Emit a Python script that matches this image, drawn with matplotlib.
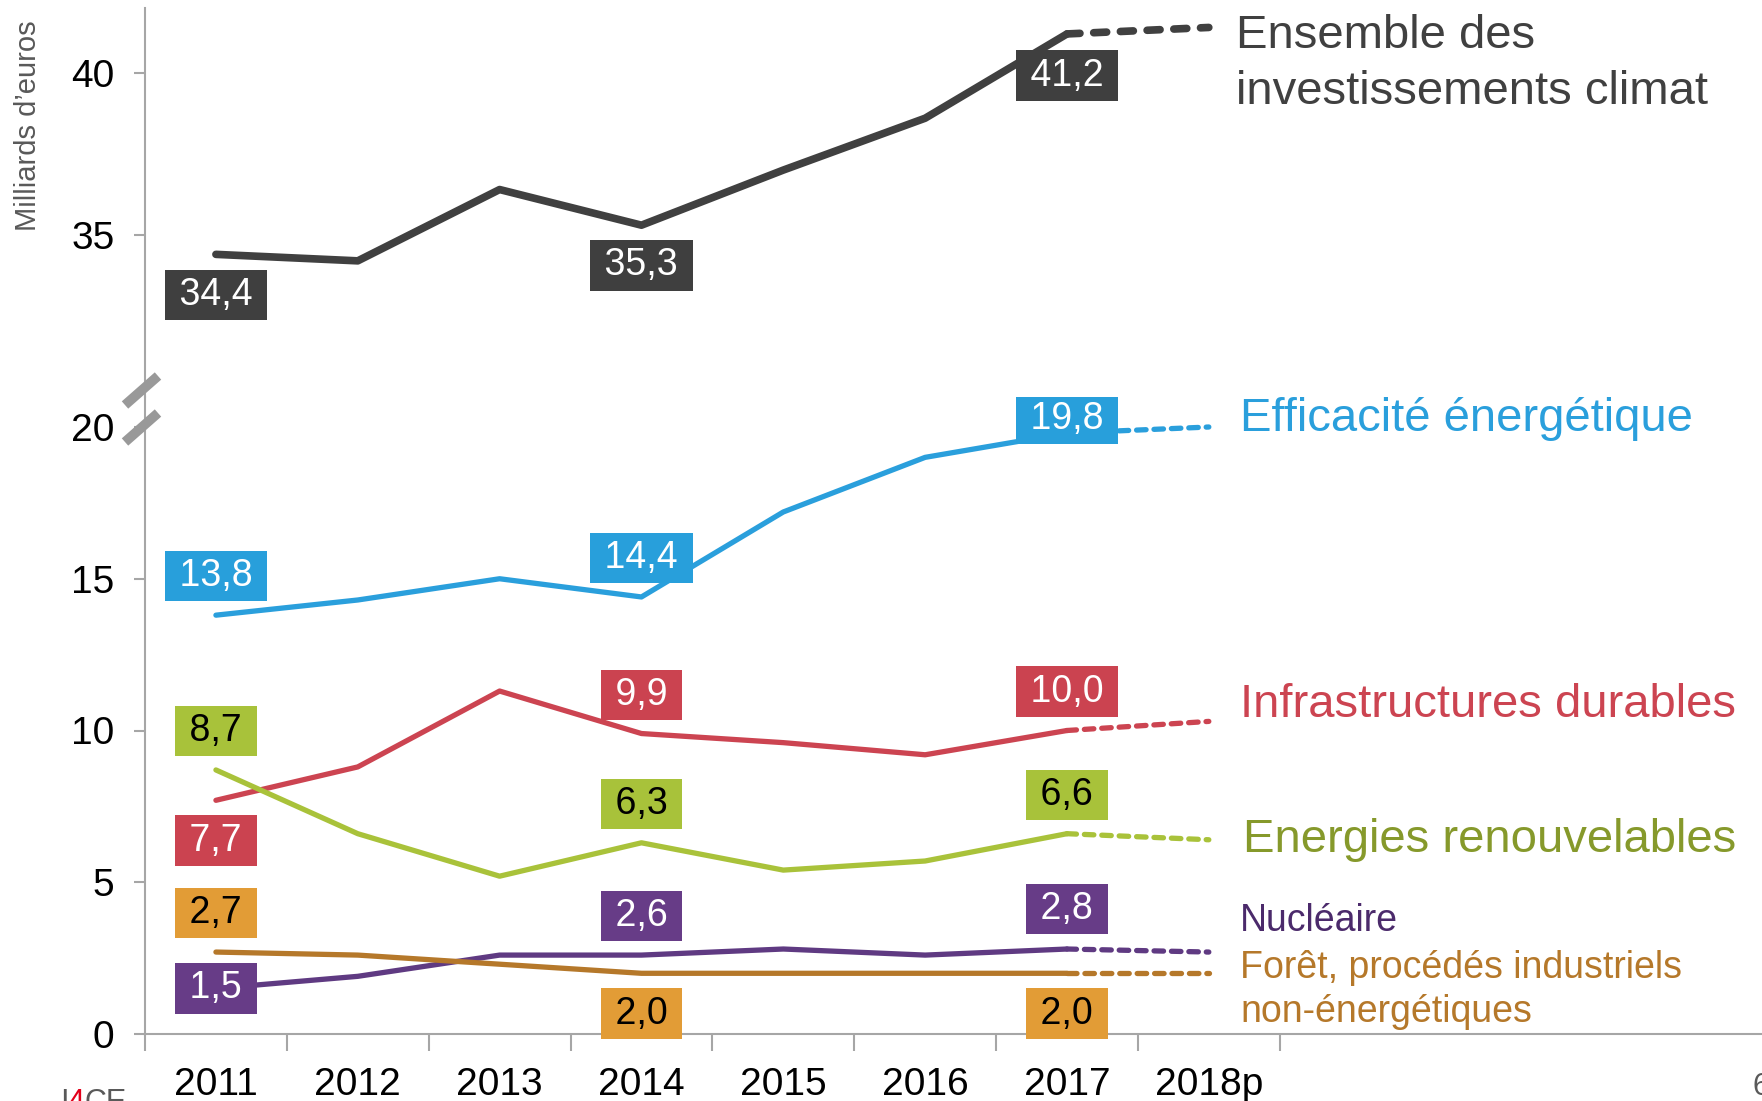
import numpy as np
import matplotlib
matplotlib.use('Agg')
import matplotlib.pyplot as plt
from matplotlib.lines import Line2D

plt.rcParams['font.family'] = ['Liberation Sans', 'DejaVu Sans']

# data
years = ['2011', '2012', '2013', '2014', '2015', '2016', '2017', '2018p']
total = [34.4, 34.2, 36.4, 35.3, 37.0, 38.6, 41.2, 41.4]
efficacite = [13.8, 14.3, 15.0, 14.4, 17.2, 19.0, 19.8, 20.0]
infra = [7.7, 8.8, 11.3, 9.9, 9.6, 9.2, 10.0, 10.3]
enr = [8.7, 6.6, 5.2, 6.3, 5.4, 5.7, 6.6, 6.4]
nucleaire = [1.5, 1.9, 2.6, 2.6, 2.8, 2.6, 2.8, 2.7]
foret = [2.7, 2.6, 2.3, 2.0, 2.0, 2.0, 2.0, 2.0]
labelled = [0, 3, 6]

GRAY = '#a6a6a6'

fig = plt.figure(figsize=(17.62, 11.01), dpi=100)
W, H = 1762.0, 1101.0
left = 145 / W
ax = fig.add_axes([left, (H - 1034) / H, 1 - left, 607 / H])
ax_top = fig.add_axes([left, (H - 397) / H, 1 - left, 389 / H])


def draw(a, vals, color, lw, dash):
    x = np.arange(len(vals))
    a.plot(x[:7], vals[:7], color=color, lw=lw, solid_capstyle='round',
           solid_joinstyle='round', clip_on=False, zorder=3)
    a.plot(x[6:], vals[6:], color=color, lw=lw, linestyle=(0, dash),
           dash_capstyle='round', clip_on=False, zorder=3)


def boxes(a, vals, box, txt, offsets):
    for i, dy in zip(labelled, offsets):
        s = '\u2009' + f'{vals[i]:.1f}'.replace('.', ',') + '\u2009'
        a.annotate(s, (i, vals[i]), xytext=(0, dy), textcoords='offset points',
                   ha='center', va='center', fontsize=27, color=txt,
                   bbox=dict(boxstyle='square,pad=0.19', fc=box, ec='none'),
                   zorder=5, annotation_clip=False)


draw(ax_top, total, '#404040', 5.5, (1.7, 1.8))
draw(ax, efficacite, '#2a9fdc', 3.8, (1.8, 1.5))
draw(ax, infra, '#cc4451', 3.8, (1.8, 1.5))
draw(ax, enr, '#a9c23a', 3.8, (1.8, 1.5))
draw(ax, nucleaire, '#5f3a82', 3.8, (1.8, 1.5))
draw(ax, foret, '#b5782a', 3.8, (1.8, 1.5))

boxes(ax_top, total, '#3f3f3f', 'white', [-29, -29, -30])
boxes(ax, efficacite, '#289fdb', 'white', [28, 28, 10])
boxes(ax, infra, '#cb4350', 'white', [-29, 28, 28])
boxes(ax, enr, '#a8c23a', 'black', [28, 28, 28])
boxes(ax, nucleaire, '#673c87', 'white', [0, 28, 29])
boxes(ax, foret, '#e29c36', 'black', [28, -29, -29])

# series names on the right
tx = 7.19
ax_top.text(tx, 41.15, 'Ensemble des', fontsize=34, color='#404040', va='center')
ax_top.text(tx, 39.4, 'investissements climat', fontsize=34, color='#404040', va='center')
ax.text(tx + 0.03, 20.28, 'Efficacité énergétique', fontsize=34, color='#2a9fdc',
        va='center', clip_on=False)
ax.text(tx + 0.03, 10.85, 'Infrastructures durables', fontsize=34, color='#cc4451', va='center')
ax.text(tx + 0.05, 6.4, 'Energies renouvelables', fontsize=34, color='#86992b', va='center')
ax.text(tx + 0.03, 3.72, 'Nucléaire', fontsize=27, color='#4b2a6b', va='center')
ax.text(tx + 0.03, 2.17, 'Forêt, procédés industriels', fontsize=27, color='#b5782a', va='center')
ax.text(tx + 0.03, 0.74, 'non-énergétiques', fontsize=27, color='#b5782a', va='center')

# axes styling
for a in (ax, ax_top):
    a.set_xlim(-0.5, 10.9)
    for side in ('top', 'right'):
        a.spines[side].set_visible(False)
    a.spines['left'].set_color(GRAY)
    a.spines['left'].set_linewidth(1.5)
    a.tick_params(axis='y', colors=GRAY, length=8, width=1.5, labelsize=28,
                  labelcolor='black', pad=14)

ax.set_ylim(0, 20)
ax.set_yticks([0, 5, 10, 15, 20])
ax.spines['bottom'].set_color(GRAY)
ax.spines['bottom'].set_linewidth(1.5)
ax.set_xticks(range(len(years)))
ax.set_xticklabels(years)
ax.set_xticks(np.arange(-0.5, len(years), 1.0), minor=True)
ax.tick_params(axis='x', which='major', length=0, labelsize=28, pad=24)
ax.tick_params(axis='x', which='minor', length=12, width=1.5, colors=GRAY)

ax_top.set_ylim(30, 42)
ax_top.set_yticks([35, 40])
ax_top.spines['bottom'].set_visible(False)
ax_top.set_xticks([])

# vertical spine through the break and the break marks
fig.add_artist(Line2D([left, left], [1 - 427 / H, 1 - 397 / H], color=GRAY, lw=1.5))
for y0 in (405, 442):
    fig.add_artist(Line2D([125 / W, 158 / W], [1 - y0 / H, 1 - (y0 - 29) / H],
                          color='#999999', lw=7, solid_capstyle='butt'))

fig.text(28 / W, 1 - 126 / H, 'Milliards d\u2019euros', rotation=90, fontsize=21,
         color='#595959', ha='center', va='center')

# footer fragments cut by the page edge, as in the reference
fig.text(60 / W, 1 - 1088 / H, 'I', fontsize=22, color='#595959', va='top')
fig.text(67 / W, 1 - 1088 / H, '4', fontsize=22, color='#e3001b', va='top')
fig.text(84 / W, 1 - 1088 / H, 'CE', fontsize=22, color='#595959', va='top')
fig.text(1752 / W, 1 - 1072 / H, '6', fontsize=22, color='#595959', va='top')

fig.savefig('out.png', dpi=100)
